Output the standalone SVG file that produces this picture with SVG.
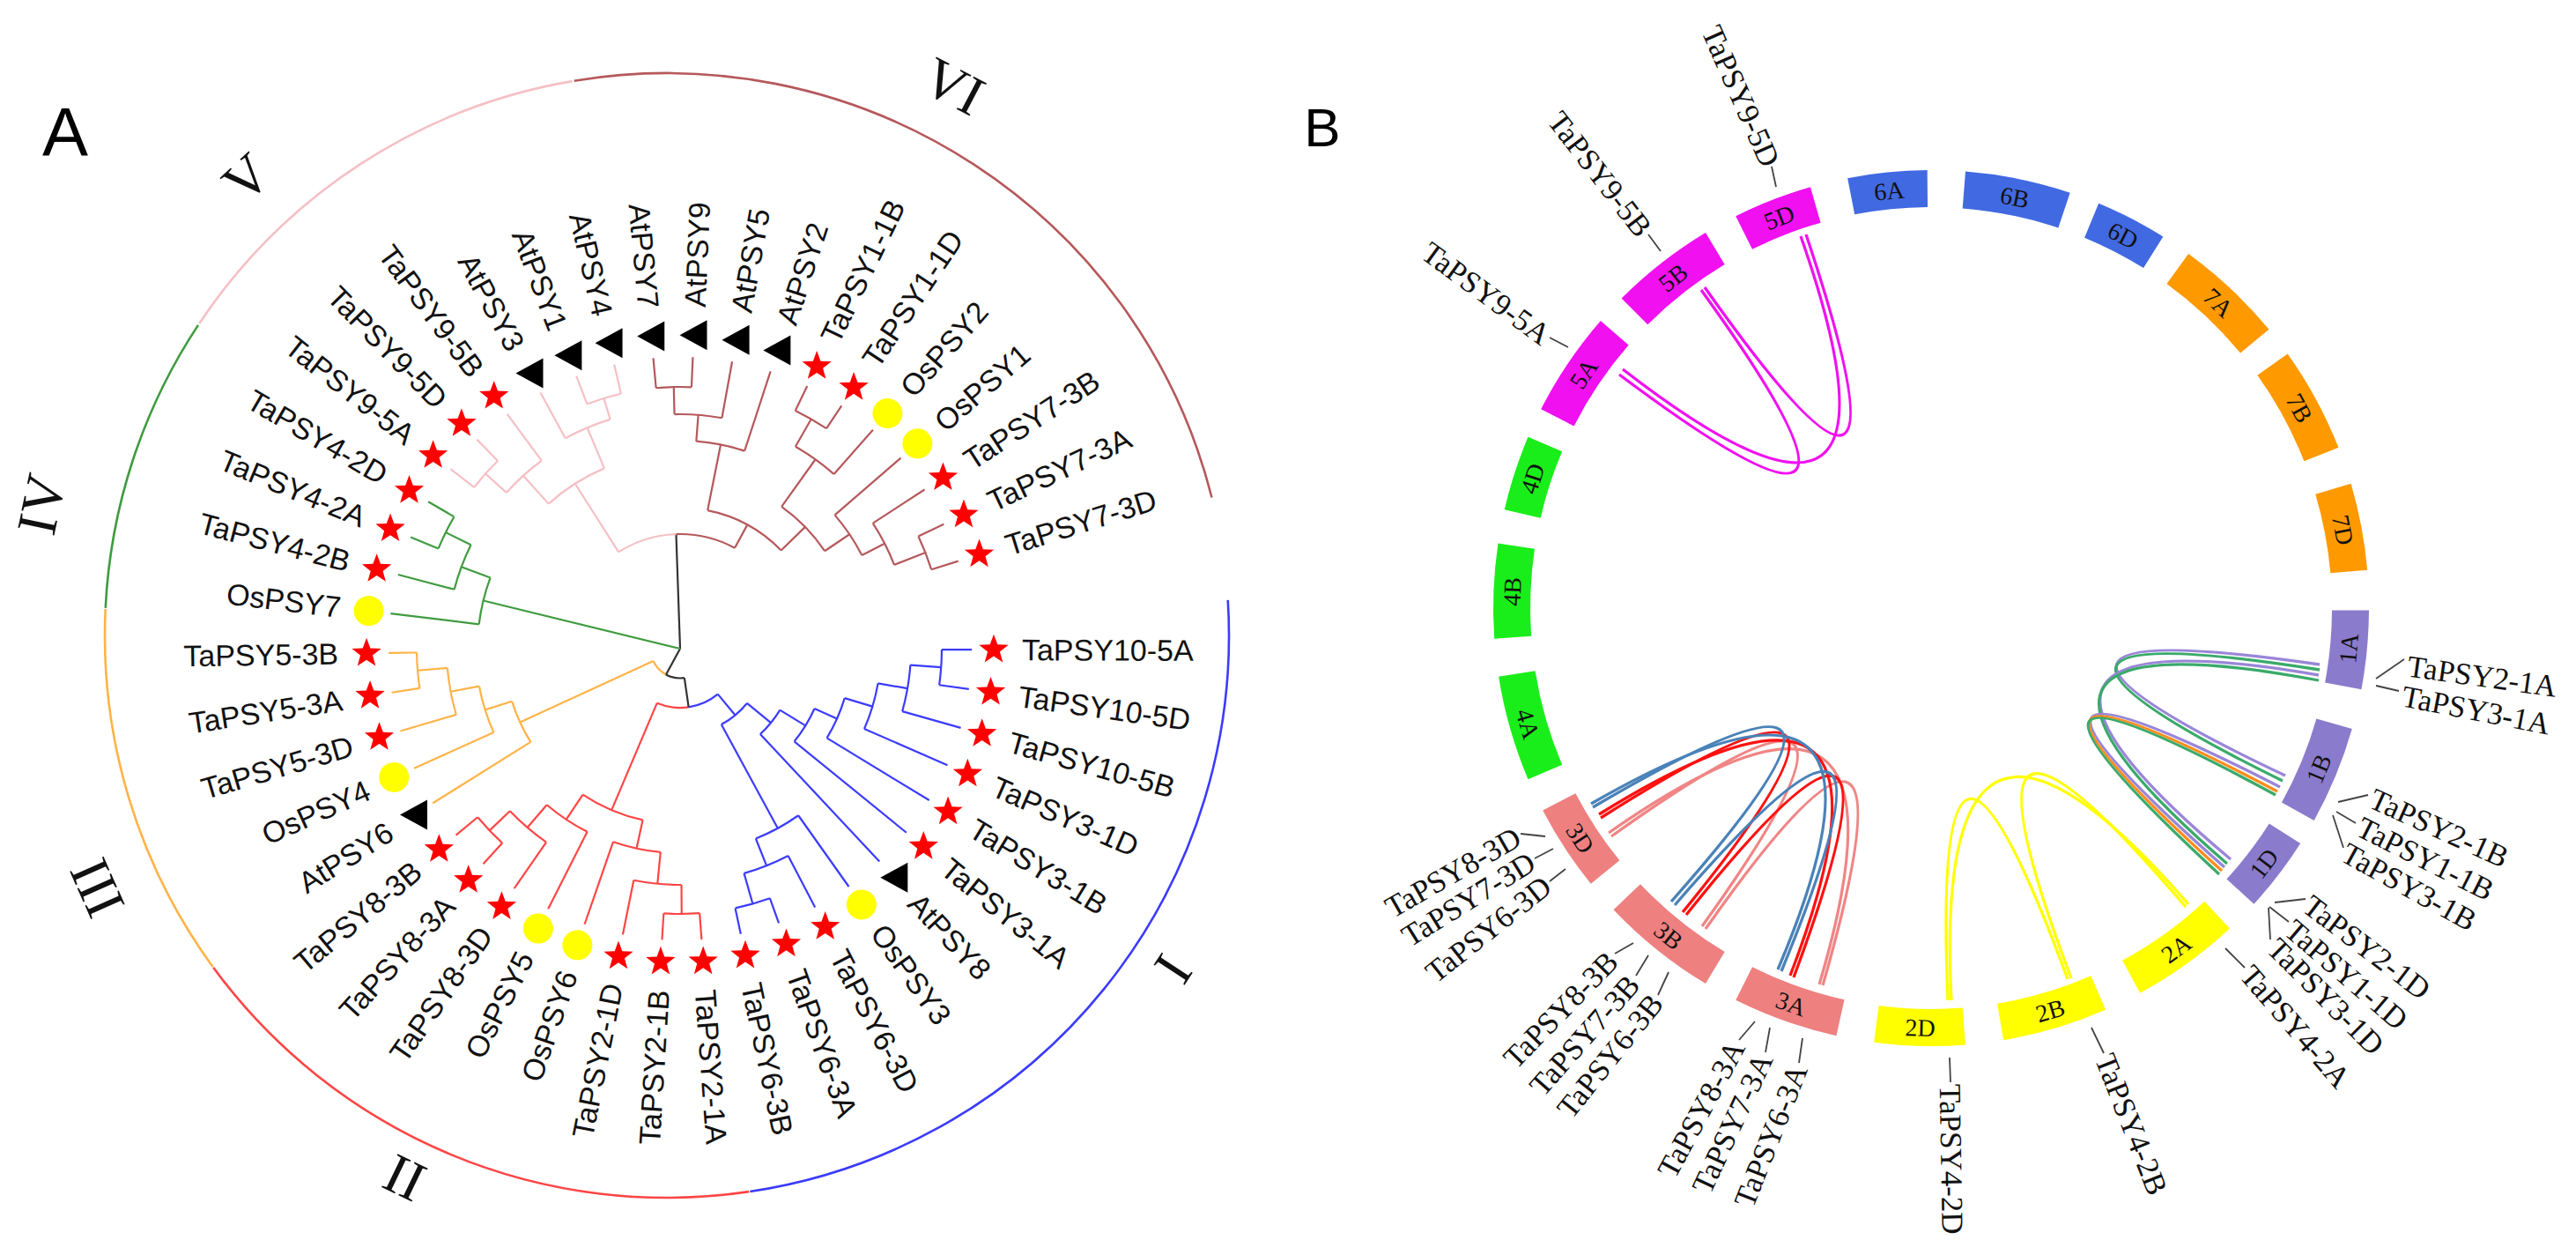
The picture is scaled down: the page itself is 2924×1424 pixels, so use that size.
<svg xmlns="http://www.w3.org/2000/svg" width="2924" height="1424" viewBox="0 0 2924 1424">
<style>
.lbl{font-family:"Liberation Sans",Arial,sans-serif;font-size:34px;fill:#111}
.rn{font-family:"Liberation Serif","Times New Roman",serif;font-size:64px;fill:#111;text-anchor:middle}
.chr{font-family:"Liberation Serif","Times New Roman",serif;font-size:28px;fill:#111;text-anchor:middle}
.gl{font-family:"Liberation Serif","Times New Roman",serif;font-size:35px;fill:#111}
.pl{font-family:"Liberation Sans",Arial,sans-serif;fill:#000;text-anchor:middle}
.b0{stroke:#333}.b1{stroke:#3b3bff}.b2{stroke:#ff4545}.b3{stroke:#ffb347}.b4{stroke:#3f9b3f}.b5{stroke:#f5c0c5}.b6{stroke:#b5585b}
.lead{stroke:#444;stroke-width:1.8;fill:none}
.lk{fill:none;stroke-width:3.3}
</style>
<defs>
<path id="st" d="M0,-17.5 L4.3,-5.9 L16.64,-5.41 L6.95,2.26 L10.29,14.16 L0,7.3 L-10.29,14.16 L-6.95,2.26 L-16.64,-5.41 L-4.3,-5.9Z" fill="#ff0000"/>
<circle id="ci" r="17" fill="#ffff00"/>
<path id="tr" d="M-16,0 L15,-17 L15,17Z" fill="#000"/>
</defs>
<rect width="2924" height="1424" fill="#fff"/>

<!-- Panel A -->
<text class="pl" x="74" y="177" font-size="78">A</text>

<g id="outer-arcs" transform="translate(757,721)" fill="none" stroke-width="2.6">
<circle r="638" pathLength="360" stroke-dasharray="85.3 400" transform="rotate(260.5)" stroke="#b5585b"/>
<circle r="638" pathLength="360" stroke-dasharray="85.1 400" transform="rotate(356.4)" stroke="#3b3bff"/>
<circle r="638" pathLength="360" stroke-dasharray="62.2 400" transform="rotate(81.6)" stroke="#ff4545"/>
<circle r="638" pathLength="360" stroke-dasharray="38.8 400" transform="rotate(143.9)" stroke="#ffb347"/>
<circle r="638" pathLength="360" stroke-dasharray="30.7 400" transform="rotate(182.8)" stroke="#3f9b3f"/>
<circle r="638" pathLength="360" stroke-dasharray="46.6 400" transform="rotate(213.7)" stroke="#f5c0c5"/>
</g>
<g id="clade-labels">
<text class="rn" transform="translate(1083,97) rotate(27.6)" dy=".35em">VI</text>
<text class="rn" transform="translate(279,201) rotate(-42.6)" dy=".35em">V</text>
<text class="rn" transform="translate(46,572) rotate(-78)" dy=".35em">IV</text>
<text class="rn" transform="translate(109,1008) rotate(-114)" dy=".35em">III</text>
<text class="rn" transform="translate(460,1335) rotate(25.8)" dy=".35em">II</text>
<text class="rn" transform="translate(1333,1100) rotate(123.3)" dy=".35em">I</text>
</g>

<g id="tree-branches" transform="translate(772,736)" fill="none" stroke-width="2.2">
<g class="b1">
<circle r="297" pathLength="360" stroke-dasharray="7.78 400" transform="rotate(0.2)"/>
<line x1="297" x2="331" transform="rotate(0.2)"/><line x1="297" x2="331" transform="rotate(7.98)"/>
<circle r="262" pathLength="360" stroke-dasharray="11.67 400" transform="rotate(4.09)"/>
<line x1="262" x2="297" transform="rotate(4.09)"/><line x1="262" x2="331" transform="rotate(15.76)"/>
<circle r="228" pathLength="360" stroke-dasharray="13.61 400" transform="rotate(9.93)"/>
<line x1="228" x2="262" transform="rotate(9.93)"/><line x1="228" x2="331" transform="rotate(23.54)"/>
<circle r="195" pathLength="360" stroke-dasharray="14.59 400" transform="rotate(16.73)"/>
<line x1="195" x2="228" transform="rotate(16.73)"/><line x1="195" x2="331" transform="rotate(31.32)"/>
<circle r="167" pathLength="360" stroke-dasharray="15.07 400" transform="rotate(24.03)"/>
<line x1="167" x2="195" transform="rotate(24.03)"/><line x1="167" x2="331" transform="rotate(39.1)"/>
<circle r="133" pathLength="360" stroke-dasharray="15.32 400" transform="rotate(31.56)"/>
<line x1="133" x2="167" transform="rotate(31.56)"/><line x1="133" x2="331" transform="rotate(46.88)"/>
<circle r="301" pathLength="360" stroke-dasharray="7.78 400" transform="rotate(70.22)"/>
<line x1="301" x2="331" transform="rotate(70.22)"/><line x1="301" x2="331" transform="rotate(78)"/>
<circle r="265" pathLength="360" stroke-dasharray="11.67 400" transform="rotate(62.44)"/>
<line x1="265" x2="331" transform="rotate(62.44)"/><line x1="265" x2="301" transform="rotate(74.11)"/>
<circle r="232" pathLength="360" stroke-dasharray="13.62 400" transform="rotate(54.66)"/>
<line x1="232" x2="331" transform="rotate(54.66)"/><line x1="232" x2="265" transform="rotate(68.28)"/>
<circle r="98" pathLength="360" stroke-dasharray="22.25 400" transform="rotate(39.22)"/>
<line x1="98" x2="133" transform="rotate(39.22)"/><line x1="98" x2="232" transform="rotate(61.47)"/>
<circle r="67" pathLength="360" stroke-dasharray="31.35 400" transform="rotate(50.35)"/>
<line x1="67" x2="98" transform="rotate(50.35)"/>
</g>
<g class="b2">
<circle r="67" pathLength="360" stroke-dasharray="31.3 400" transform="rotate(81.7)"/>
<line x1="67" x2="199" transform="rotate(113)"/>
<circle r="199" pathLength="360" stroke-dasharray="21.39 400" transform="rotate(102.31)"/>
<line x1="199" x2="232" transform="rotate(102.31)"/><line x1="199" x2="233" transform="rotate(123.7)"/>
<circle r="232" pathLength="360" stroke-dasharray="13.62 400" transform="rotate(95.5)"/>
<line x1="232" x2="268" transform="rotate(95.5)"/><line x1="232" x2="331" transform="rotate(109.12)"/>
<circle r="268" pathLength="360" stroke-dasharray="11.67 400" transform="rotate(89.67)"/>
<line x1="268" x2="301" transform="rotate(89.67)"/><line x1="268" x2="331" transform="rotate(101.34)"/>
<circle r="301" pathLength="360" stroke-dasharray="7.78 400" transform="rotate(85.78)"/>
<line x1="301" x2="331" transform="rotate(85.78)"/><line x1="301" x2="331" transform="rotate(93.56)"/>
<circle r="233" pathLength="360" stroke-dasharray="13.6 400" transform="rotate(116.9)"/>
<line x1="233" x2="331" transform="rotate(116.9)"/><line x1="233" x2="267" transform="rotate(130.5)"/>
<circle r="267" pathLength="360" stroke-dasharray="11.67 400" transform="rotate(124.68)"/>
<line x1="267" x2="331" transform="rotate(124.68)"/><line x1="267" x2="299" transform="rotate(136.35)"/>
<circle r="299" pathLength="360" stroke-dasharray="7.78 400" transform="rotate(132.46)"/>
<line x1="299" x2="331" transform="rotate(132.46)"/><line x1="299" x2="331" transform="rotate(140.24)"/>
</g>
<g class="b3">
<circle r="33.5" pathLength="360" stroke-dasharray="36.8 400" transform="rotate(118.5)"/>
<line x1="33.5" x2="200" transform="rotate(155.3)"/>
<circle r="200" pathLength="360" stroke-dasharray="14.58 400" transform="rotate(148.02)"/>
<line x1="200" x2="331" transform="rotate(148.02)"/><line x1="200" x2="232" transform="rotate(162.6)"/>
<circle r="232" pathLength="360" stroke-dasharray="13.6 400" transform="rotate(155.8)"/>
<line x1="232" x2="331" transform="rotate(155.8)"/><line x1="232" x2="265" transform="rotate(169.4)"/>
<circle r="265" pathLength="360" stroke-dasharray="11.67 400" transform="rotate(163.58)"/>
<line x1="265" x2="331" transform="rotate(163.58)"/><line x1="265" x2="299" transform="rotate(175.25)"/>
<circle r="299" pathLength="360" stroke-dasharray="7.78 400" transform="rotate(171.36)"/>
<line x1="299" x2="331" transform="rotate(171.36)"/><line x1="299" x2="331" transform="rotate(179.14)"/>
</g>
<g class="b0">
<line x1="0" x2="130" transform="rotate(268)"/>
<line x1="0" x2="33.5" transform="rotate(118.5)"/>
<circle r="33.5" pathLength="360" stroke-dasharray="36.8 400" transform="rotate(81.7)"/>
<line x1="33.5" x2="67" transform="rotate(81.7)"/>
</g>
<g class="b4">
<line x1="0" x2="230" transform="rotate(193.7)"/>
<circle r="230" pathLength="360" stroke-dasharray="13.58 400" transform="rotate(186.92)"/>
<line x1="230" x2="331" transform="rotate(186.92)"/><line x1="230" x2="265" transform="rotate(200.5)"/>
<circle r="265" pathLength="360" stroke-dasharray="11.67 400" transform="rotate(194.7)"/>
<line x1="265" x2="331" transform="rotate(194.7)"/><line x1="265" x2="297" transform="rotate(206.37)"/>
<circle r="297" pathLength="360" stroke-dasharray="7.78 400" transform="rotate(202.48)"/>
<line x1="297" x2="331" transform="rotate(202.48)"/><line x1="297" x2="331" transform="rotate(210.26)"/>
</g>
<g class="b5">
<circle r="130" pathLength="360" stroke-dasharray="30.5 400" transform="rotate(237.5)"/>
<line x1="130" x2="222" transform="rotate(237.5)"/>
<circle r="222" pathLength="360" stroke-dasharray="19.43 400" transform="rotate(227.77)"/>
<line x1="222" x2="265" transform="rotate(227.77)"/><line x1="222" x2="272" transform="rotate(247.2)"/>
<circle r="265" pathLength="360" stroke-dasharray="11.67 400" transform="rotate(221.93)"/>
<line x1="265" x2="297" transform="rotate(221.93)"/><line x1="265" x2="331" transform="rotate(233.6)"/>
<circle r="297" pathLength="360" stroke-dasharray="7.78 400" transform="rotate(218.04)"/>
<line x1="297" x2="331" transform="rotate(218.04)"/><line x1="297" x2="331" transform="rotate(225.82)"/>
<circle r="272" pathLength="360" stroke-dasharray="11.67 400" transform="rotate(241.38)"/>
<line x1="272" x2="331" transform="rotate(241.38)"/><line x1="272" x2="297" transform="rotate(253.05)"/>
<circle r="297" pathLength="360" stroke-dasharray="7.78 400" transform="rotate(249.16)"/>
<line x1="297" x2="331" transform="rotate(249.16)"/><line x1="297" x2="331" transform="rotate(256.94)"/>
</g>
<g class="b6">
<circle r="130" pathLength="360" stroke-dasharray="30.5 400" transform="rotate(268)"/>
<line x1="130" x2="160" transform="rotate(298.5)"/>
<circle r="160" pathLength="360" stroke-dasharray="34.53 400" transform="rotate(281.25)"/>
<line x1="160" x2="236" transform="rotate(281.25)"/><line x1="160" x2="198" transform="rotate(315.78)"/>
<circle r="236" pathLength="360" stroke-dasharray="13.61 400" transform="rotate(274.45)"/>
<line x1="236" x2="266" transform="rotate(274.45)"/><line x1="236" x2="331" transform="rotate(288.06)"/>
<circle r="266" pathLength="360" stroke-dasharray="11.67 400" transform="rotate(268.61)"/>
<line x1="266" x2="297" transform="rotate(268.61)"/><line x1="266" x2="331" transform="rotate(280.28)"/>
<circle r="297" pathLength="360" stroke-dasharray="7.78 400" transform="rotate(264.72)"/>
<line x1="297" x2="331" transform="rotate(264.72)"/><line x1="297" x2="331" transform="rotate(272.5)"/>
<circle r="198" pathLength="360" stroke-dasharray="20.42 400" transform="rotate(305.57)"/>
<line x1="198" x2="264" transform="rotate(305.57)"/><line x1="198" x2="232" transform="rotate(325.99)"/>
<circle r="264" pathLength="360" stroke-dasharray="11.67 400" transform="rotate(299.73)"/>
<line x1="264" x2="300" transform="rotate(299.73)"/><line x1="264" x2="331" transform="rotate(311.4)"/>
<circle r="300" pathLength="360" stroke-dasharray="7.78 400" transform="rotate(295.84)"/>
<line x1="300" x2="331" transform="rotate(295.84)"/><line x1="300" x2="331" transform="rotate(303.62)"/>
<circle r="232" pathLength="360" stroke-dasharray="13.62 400" transform="rotate(319.18)"/>
<line x1="232" x2="331" transform="rotate(319.18)"/><line x1="232" x2="261" transform="rotate(332.8)"/>
<circle r="261" pathLength="360" stroke-dasharray="11.67 400" transform="rotate(326.96)"/>
<line x1="261" x2="331" transform="rotate(326.96)"/><line x1="261" x2="299" transform="rotate(338.63)"/>
<circle r="299" pathLength="360" stroke-dasharray="7.78 400" transform="rotate(334.74)"/>
<line x1="299" x2="331" transform="rotate(334.74)"/><line x1="299" x2="331" transform="rotate(342.52)"/>
</g>
</g>

<g id="tree-leaves" transform="translate(772,736)">
<g id="n-TaPSY10-5A" transform="rotate(0.2)"><use href="#st" transform="translate(356,0) rotate(-0.2)"/><text class="lbl" x="388" dy=".35em">TaPSY10-5A</text></g>
<g id="n-TaPSY10-5D" transform="rotate(7.98)"><use href="#st" transform="translate(356,0) rotate(-7.98)"/><text class="lbl" x="388" dy=".35em">TaPSY10-5D</text></g>
<g id="n-TaPSY10-5B" transform="rotate(15.76)"><use href="#st" transform="translate(356,0) rotate(-15.76)"/><text class="lbl" x="388" dy=".35em">TaPSY10-5B</text></g>
<g id="n-TaPSY3-1D" transform="rotate(23.54)"><use href="#st" transform="translate(356,0) rotate(-23.54)"/><text class="lbl" x="388" dy=".35em">TaPSY3-1D</text></g>
<g id="n-TaPSY3-1B" transform="rotate(31.32)"><use href="#st" transform="translate(356,0) rotate(-31.32)"/><text class="lbl" x="388" dy=".35em">TaPSY3-1B</text></g>
<g id="n-TaPSY3-1A" transform="rotate(39.1)"><use href="#st" transform="translate(356,0) rotate(-39.1)"/><text class="lbl" x="388" dy=".35em">TaPSY3-1A</text></g>
<g id="n-AtPSY8" transform="rotate(46.88)"><use href="#tr" transform="translate(356,0) rotate(-46.88)"/><text class="lbl" x="388" dy=".35em">AtPSY8</text></g>
<g id="n-OsPSY3" transform="rotate(54.66)"><use href="#ci" x="356"/><text class="lbl" x="388" dy=".35em">OsPSY3</text></g>
<g id="n-TaPSY6-3D" transform="rotate(62.44)"><use href="#st" transform="translate(356,0) rotate(-62.44)"/><text class="lbl" x="388" dy=".35em">TaPSY6-3D</text></g>
<g id="n-TaPSY6-3A" transform="rotate(70.22)"><use href="#st" transform="translate(356,0) rotate(-70.22)"/><text class="lbl" x="388" dy=".35em">TaPSY6-3A</text></g>
<g id="n-TaPSY6-3B" transform="rotate(78)"><use href="#st" transform="translate(356,0) rotate(-78)"/><text class="lbl" x="388" dy=".35em">TaPSY6-3B</text></g>
<g id="n-TaPSY2-1A" transform="rotate(85.78)"><use href="#st" transform="translate(356,0) rotate(-85.78)"/><text class="lbl" x="388" dy=".35em">TaPSY2-1A</text></g>
<g id="n-TaPSY2-1B" transform="rotate(93.56)"><use href="#st" transform="translate(356,0) rotate(-93.56)"/><text class="lbl" text-anchor="end" transform="translate(388,0) rotate(180)" dy=".35em">TaPSY2-1B</text></g>
<g id="n-TaPSY2-1D" transform="rotate(101.34)"><use href="#st" transform="translate(356,0) rotate(-101.34)"/><text class="lbl" text-anchor="end" transform="translate(388,0) rotate(180)" dy=".35em">TaPSY2-1D</text></g>
<g id="n-OsPSY6" transform="rotate(109.12)"><use href="#ci" x="356"/><text class="lbl" text-anchor="end" transform="translate(388,0) rotate(180)" dy=".35em">OsPSY6</text></g>
<g id="n-OsPSY5" transform="rotate(116.9)"><use href="#ci" x="356"/><text class="lbl" text-anchor="end" transform="translate(388,0) rotate(180)" dy=".35em">OsPSY5</text></g>
<g id="n-TaPSY8-3D" transform="rotate(124.68)"><use href="#st" transform="translate(356,0) rotate(-124.68)"/><text class="lbl" text-anchor="end" transform="translate(388,0) rotate(180)" dy=".35em">TaPSY8-3D</text></g>
<g id="n-TaPSY8-3A" transform="rotate(132.46)"><use href="#st" transform="translate(356,0) rotate(-132.46)"/><text class="lbl" text-anchor="end" transform="translate(388,0) rotate(180)" dy=".35em">TaPSY8-3A</text></g>
<g id="n-TaPSY8-3B" transform="rotate(140.24)"><use href="#st" transform="translate(356,0) rotate(-140.24)"/><text class="lbl" text-anchor="end" transform="translate(388,0) rotate(180)" dy=".35em">TaPSY8-3B</text></g>
<g id="n-AtPSY6" transform="rotate(148.02)"><use href="#tr" transform="translate(356,0) rotate(-148.02)"/><text class="lbl" text-anchor="end" transform="translate(388,0) rotate(180)" dy=".35em">AtPSY6</text></g>
<g id="n-OsPSY4" transform="rotate(155.8)"><use href="#ci" x="356"/><text class="lbl" text-anchor="end" transform="translate(388,0) rotate(180)" dy=".35em">OsPSY4</text></g>
<g id="n-TaPSY5-3D" transform="rotate(163.58)"><use href="#st" transform="translate(356,0) rotate(-163.58)"/><text class="lbl" text-anchor="end" transform="translate(388,0) rotate(180)" dy=".35em">TaPSY5-3D</text></g>
<g id="n-TaPSY5-3A" transform="rotate(171.36)"><use href="#st" transform="translate(356,0) rotate(-171.36)"/><text class="lbl" text-anchor="end" transform="translate(388,0) rotate(180)" dy=".35em">TaPSY5-3A</text></g>
<g id="n-TaPSY5-3B" transform="rotate(179.14)"><use href="#st" transform="translate(356,0) rotate(-179.14)"/><text class="lbl" text-anchor="end" transform="translate(388,0) rotate(180)" dy=".35em">TaPSY5-3B</text></g>
<g id="n-OsPSY7" transform="rotate(186.92)"><use href="#ci" x="356"/><text class="lbl" text-anchor="end" transform="translate(388,0) rotate(180)" dy=".35em">OsPSY7</text></g>
<g id="n-TaPSY4-2B" transform="rotate(194.7)"><use href="#st" transform="translate(356,0) rotate(-194.7)"/><text class="lbl" text-anchor="end" transform="translate(388,0) rotate(180)" dy=".35em">TaPSY4-2B</text></g>
<g id="n-TaPSY4-2A" transform="rotate(202.48)"><use href="#st" transform="translate(356,0) rotate(-202.48)"/><text class="lbl" text-anchor="end" transform="translate(388,0) rotate(180)" dy=".35em">TaPSY4-2A</text></g>
<g id="n-TaPSY4-2D" transform="rotate(210.26)"><use href="#st" transform="translate(356,0) rotate(-210.26)"/><text class="lbl" text-anchor="end" transform="translate(388,0) rotate(180)" dy=".35em">TaPSY4-2D</text></g>
<g id="n-TaPSY9-5A" transform="rotate(218.04)"><use href="#st" transform="translate(356,0) rotate(-218.04)"/><text class="lbl" text-anchor="end" transform="translate(388,0) rotate(180)" dy=".35em">TaPSY9-5A</text></g>
<g id="n-TaPSY9-5D" transform="rotate(225.82)"><use href="#st" transform="translate(356,0) rotate(-225.82)"/><text class="lbl" text-anchor="end" transform="translate(388,0) rotate(180)" dy=".35em">TaPSY9-5D</text></g>
<g id="n-TaPSY9-5B" transform="rotate(233.6)"><use href="#st" transform="translate(356,0) rotate(-233.6)"/><text class="lbl" text-anchor="end" transform="translate(388,0) rotate(180)" dy=".35em">TaPSY9-5B</text></g>
<g id="n-AtPSY3" transform="rotate(241.38)"><use href="#tr" transform="translate(356,0) rotate(-241.38)"/><text class="lbl" text-anchor="end" transform="translate(388,0) rotate(180)" dy=".35em">AtPSY3</text></g>
<g id="n-AtPSY1" transform="rotate(249.16)"><use href="#tr" transform="translate(356,0) rotate(-249.16)"/><text class="lbl" text-anchor="end" transform="translate(388,0) rotate(180)" dy=".35em">AtPSY1</text></g>
<g id="n-AtPSY4" transform="rotate(256.94)"><use href="#tr" transform="translate(356,0) rotate(-256.94)"/><text class="lbl" text-anchor="end" transform="translate(388,0) rotate(180)" dy=".35em">AtPSY4</text></g>
<g id="n-AtPSY7" transform="rotate(264.72)"><use href="#tr" transform="translate(356,0) rotate(-264.72)"/><text class="lbl" text-anchor="end" transform="translate(388,0) rotate(180)" dy=".35em">AtPSY7</text></g>
<g id="n-AtPSY9" transform="rotate(272.5)"><use href="#tr" transform="translate(356,0) rotate(-272.5)"/><text class="lbl" x="388" dy=".35em">AtPSY9</text></g>
<g id="n-AtPSY5" transform="rotate(280.28)"><use href="#tr" transform="translate(356,0) rotate(-280.28)"/><text class="lbl" x="388" dy=".35em">AtPSY5</text></g>
<g id="n-AtPSY2" transform="rotate(288.06)"><use href="#tr" transform="translate(356,0) rotate(-288.06)"/><text class="lbl" x="388" dy=".35em">AtPSY2</text></g>
<g id="n-TaPSY1-1B" transform="rotate(295.84)"><use href="#st" transform="translate(356,0) rotate(-295.84)"/><text class="lbl" x="388" dy=".35em">TaPSY1-1B</text></g>
<g id="n-TaPSY1-1D" transform="rotate(303.62)"><use href="#st" transform="translate(356,0) rotate(-303.62)"/><text class="lbl" x="388" dy=".35em">TaPSY1-1D</text></g>
<g id="n-OsPSY2" transform="rotate(311.4)"><use href="#ci" x="356"/><text class="lbl" x="388" dy=".35em">OsPSY2</text></g>
<g id="n-OsPSY1" transform="rotate(319.18)"><use href="#ci" x="356"/><text class="lbl" x="388" dy=".35em">OsPSY1</text></g>
<g id="n-TaPSY7-3B" transform="rotate(326.96)"><use href="#st" transform="translate(356,0) rotate(-326.96)"/><text class="lbl" x="388" dy=".35em">TaPSY7-3B</text></g>
<g id="n-TaPSY7-3A" transform="rotate(334.74)"><use href="#st" transform="translate(356,0) rotate(-334.74)"/><text class="lbl" x="388" dy=".35em">TaPSY7-3A</text></g>
<g id="n-TaPSY7-3D" transform="rotate(342.52)"><use href="#st" transform="translate(356,0) rotate(-342.52)"/><text class="lbl" x="388" dy=".35em">TaPSY7-3D</text></g>
</g>

<!-- Panel B -->
<text class="pl" x="1501" y="166" font-size="62">B</text>

<g id="links" transform="translate(2192,690)">
<g stroke="#f010f0" class="lk">
<path d="M-354,-265 Q0,0 -261,-361"/>
<path d="M-350,-271 Q0,0 -148,-422"/>
<path d="M-257,-364 Q0,0 -142,-424"/>
</g>
<g stroke="#ffff00" class="lk">
<path d="M19,445 Q0,0 155,421"/>
<path d="M23,445 Q0,0 292,336"/>
<path d="M159,420 Q0,0 289,339"/>
</g>
<g class="lk">
<path stroke="#9a86d8" d="M441,64 Q0,0 402,190"/>
<path stroke="#3aaa6a" d="M441,70 Q0,0 399,196"/>
<path stroke="#9a86d8" d="M440,76 Q0,0 340,285"/>
<path stroke="#3aaa6a" d="M440,82 Q0,0 336,290"/>
<path stroke="#9a86d8" d="M396,203 Q0,0 333,294"/>
<path stroke="#ff8c1a" d="M393,208 Q0,0 330,298"/>
<path stroke="#3aaa6a" d="M391,212 Q0,0 327,302"/>
</g>
<g class="lk" stroke-width="3.6">
<path stroke="#f08585" d="M-363,259 Q0,0 -260,361"/>
<path stroke="#f08585" d="M-366,255 Q0,0 -127,427"/>
<path stroke="#f08585" d="M-256,364 Q0,0 -123,428"/>
<path stroke="#ff1010" d="M-375,238 Q0,0 -282,345"/>
<path stroke="#ff1010" d="M-377,234 Q0,0 -160,417"/>
<path stroke="#ff1010" d="M-278,348 Q0,0 -156,419"/>
<path stroke="#4a82b8" d="M-384,226 Q0,0 -295,333"/>
<path stroke="#4a82b8" d="M-386,222 Q0,0 -174,410"/>
<path stroke="#4a82b8" d="M-291,337 Q0,0 -170,412"/>
</g>
</g>

<g id="chromosomes" transform="translate(2192,690)" fill="none" stroke-width="42">
<g id="chr-1A"><circle r="476" pathLength="360" stroke-dasharray="10.4 400" transform="rotate(0.3)" stroke="#8b7bcc"/><text class="chr" transform="rotate(5.5) translate(476,0) rotate(-90)" dy=".35em">1A</text></g>
<g id="chr-1B"><circle r="476" pathLength="360" stroke-dasharray="13 400" transform="rotate(16)" stroke="#8b7bcc"/><text class="chr" transform="rotate(22.5) translate(476,0) rotate(-90)" dy=".35em">1B</text></g>
<g id="chr-1D"><circle r="476" pathLength="360" stroke-dasharray="10 400" transform="rotate(32.5)" stroke="#8b7bcc"/><text class="chr" transform="rotate(37.5) translate(476,0) rotate(-90)" dy=".35em">1D</text></g>
<g id="chr-2A"><circle r="476" pathLength="360" stroke-dasharray="14.5 400" transform="rotate(47)" stroke="#ffff00"/><text class="chr" transform="rotate(54.25) translate(476,0) rotate(-90)" dy=".35em">2A</text></g>
<g id="chr-2B"><circle r="476" pathLength="360" stroke-dasharray="14 400" transform="rotate(66.5)" stroke="#ffff00"/><text class="chr" transform="rotate(73.5) translate(476,0) rotate(-90)" dy=".35em">2B</text></g>
<g id="chr-2D"><circle r="476" pathLength="360" stroke-dasharray="12 400" transform="rotate(85.5)" stroke="#ffff00"/><text class="chr" transform="rotate(91.5) translate(476,0) rotate(-90)" dy=".35em">2D</text></g>
<g id="chr-3A"><circle r="476" pathLength="360" stroke-dasharray="14 400" transform="rotate(102.5)" stroke="#ee8080"/><text class="chr" transform="rotate(109.5) translate(476,0) rotate(-90)" dy=".35em">3A</text></g>
<g id="chr-3B"><circle r="476" pathLength="360" stroke-dasharray="15.5 400" transform="rotate(121)" stroke="#ee8080"/><text class="chr" transform="rotate(128.75) translate(476,0) rotate(-90)" dy=".35em">3B</text></g>
<g id="chr-3D"><circle r="476" pathLength="360" stroke-dasharray="11.5 400" transform="rotate(141)" stroke="#ee8080"/><text class="chr" transform="rotate(146.75) translate(476,0) rotate(-90)" dy=".35em">3D</text></g>
<g id="chr-4A"><circle r="476" pathLength="360" stroke-dasharray="14 400" transform="rotate(157)" stroke="#1aee1a"/><text class="chr" transform="rotate(164) translate(476,0) rotate(-90)" dy=".35em">4A</text></g>
<g id="chr-4B"><circle r="476" pathLength="360" stroke-dasharray="12.5 400" transform="rotate(176)" stroke="#1aee1a"/><text class="chr" transform="rotate(182.25) translate(476,0) rotate(90)" dy=".35em">4B</text></g>
<g id="chr-4D"><circle r="476" pathLength="360" stroke-dasharray="10 400" transform="rotate(193)" stroke="#1aee1a"/><text class="chr" transform="rotate(198) translate(476,0) rotate(90)" dy=".35em">4D</text></g>
<g id="chr-5A"><circle r="476" pathLength="360" stroke-dasharray="14 400" transform="rotate(207)" stroke="#f010f0"/><text class="chr" transform="rotate(214) translate(476,0) rotate(90)" dy=".35em">5A</text></g>
<g id="chr-5B"><circle r="476" pathLength="360" stroke-dasharray="14 400" transform="rotate(225)" stroke="#f010f0"/><text class="chr" transform="rotate(232) translate(476,0) rotate(90)" dy=".35em">5B</text></g>
<g id="chr-5D"><circle r="476" pathLength="360" stroke-dasharray="10.5 400" transform="rotate(243.5)" stroke="#f010f0"/><text class="chr" transform="rotate(248.75) translate(476,0) rotate(90)" dy=".35em">5D</text></g>
<g id="chr-6A"><circle r="476" pathLength="360" stroke-dasharray="10.5 400" transform="rotate(259)" stroke="#4169e1"/><text class="chr" transform="rotate(264.25) translate(476,0) rotate(90)" dy=".35em">6A</text></g>
<g id="chr-6B"><circle r="476" pathLength="360" stroke-dasharray="14 400" transform="rotate(274.5)" stroke="#4169e1"/><text class="chr" transform="rotate(281.5) translate(476,0) rotate(90)" dy=".35em">6B</text></g>
<g id="chr-6D"><circle r="476" pathLength="360" stroke-dasharray="9.5 400" transform="rotate(292.5)" stroke="#4169e1"/><text class="chr" transform="rotate(297.25) translate(476,0) rotate(90)" dy=".35em">6D</text></g>
<g id="chr-7A"><circle r="476" pathLength="360" stroke-dasharray="14.5 400" transform="rotate(306)" stroke="#ff9900"/><text class="chr" transform="rotate(313.25) translate(476,0) rotate(90)" dy=".35em">7A</text></g>
<g id="chr-7B"><circle r="476" pathLength="360" stroke-dasharray="14 400" transform="rotate(324.5)" stroke="#ff9900"/><text class="chr" transform="rotate(331.5) translate(476,0) rotate(90)" dy=".35em">7B</text></g>
<g id="chr-7D"><circle r="476" pathLength="360" stroke-dasharray="11.5 400" transform="rotate(343.5)" stroke="#ff9900"/><text class="chr" transform="rotate(349.25) translate(476,0) rotate(90)" dy=".35em">7D</text></g>
</g>

<g id="gene-leaders" class="lead">
<path d="M2697,770L2729,748M2697,778L2723,784M2654,910L2688,902M2652,921L2674,934M2648,925L2660,962M2582,1024L2617,1020M2576,1029L2598,1046M2575,1030L2577,1066M2526,1076L2548,1098M2374,1166L2388,1195M2213,1200L2214,1228M2046,1178L2042,1206M2009,1166L2004,1194M1992,1159L1974,1180M1894,1103L1882,1129M1871,1084L1857,1107M1854,1070L1833,1082M1777,986L1759,1000M1763,963L1742,974M1754,949L1726,946M1780,394L1759,383M1885,285L1871,266M2016,212L2011,189"/>
</g>
<g id="gene-labels" class="gl">
<text transform="translate(2733,755) rotate(8)" dy=".35em">TaPSY2-1A</text>
<text transform="translate(2727,789) rotate(11)" dy=".35em">TaPSY3-1A</text>
<text transform="translate(2692,904) rotate(24.5)" dy=".35em">TaPSY2-1B</text>
<text transform="translate(2678,936) rotate(26.7)" dy=".35em">TaPSY1-1B</text>
<text transform="translate(2661,965) rotate(28.9)" dy=".35em">TaPSY3-1B</text>
<text transform="translate(2619,1023) rotate(37.2)" dy=".35em">TaPSY2-1D</text>
<text transform="translate(2599,1050) rotate(40.6)" dy=".35em">TaPSY1-1D</text>
<text transform="translate(2580,1070) rotate(45)" dy=".35em">TaPSY3-1D</text>
<text transform="translate(2550,1100) rotate(49.2)" dy=".35em">TaPSY4-2A</text>
<text transform="translate(2389,1197) rotate(68.5)" dy=".35em">TaPSY4-2B</text>
<text transform="translate(2214,1230) rotate(89)" dy=".35em">TaPSY4-2D</text>
<g text-anchor="end">
<text transform="translate(2041,1209) rotate(-68.4)" dy=".35em">TaPSY6-3A</text>
<text transform="translate(2002,1197) rotate(-65)" dy=".35em">TaPSY7-3A</text>
<text transform="translate(1971,1183) rotate(-61.7)" dy=".35em">TaPSY8-3A</text>
<text transform="translate(1880,1132) rotate(-51.2)" dy=".35em">TaPSY6-3B</text>
<text transform="translate(1854,1111) rotate(-48.7)" dy=".35em">TaPSY7-3B</text>
<text transform="translate(1830,1085) rotate(-45.7)" dy=".35em">TaPSY8-3B</text>
<text transform="translate(1756,1001) rotate(-38.4)" dy=".35em">TaPSY6-3D</text>
<text transform="translate(1739,975) rotate(-31.8)" dy=".35em">TaPSY7-3D</text>
<text transform="translate(1723,947) rotate(-29.8)" dy=".35em">TaPSY8-3D</text>
<text transform="translate(1756,383) rotate(36.3)" dy=".35em">TaPSY9-5A</text>
<text transform="translate(1868,264) rotate(52.3)" dy=".35em">TaPSY9-5B</text>
<text transform="translate(2011,187) rotate(66.2)" dy=".35em">TaPSY9-5D</text>
</g>
</g>
</svg>
